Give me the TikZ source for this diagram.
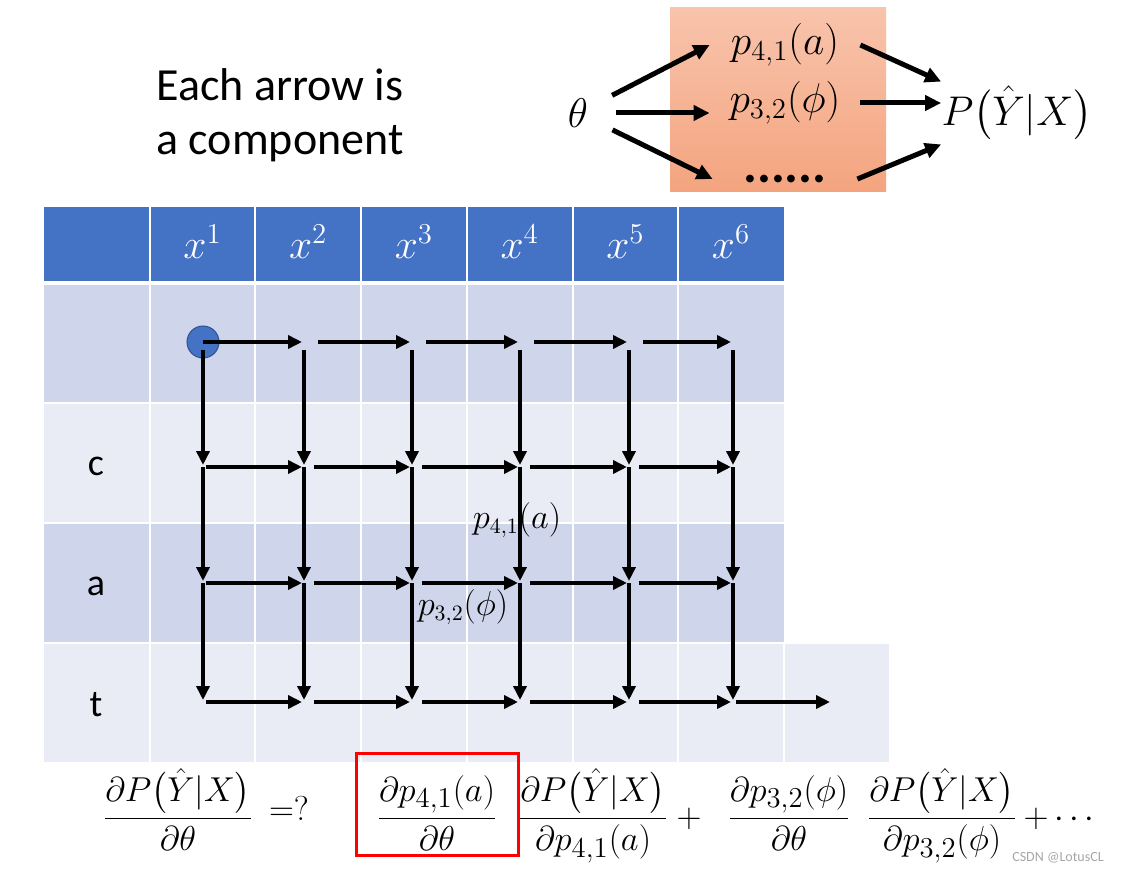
\documentclass[tikz,border=0pt]{standalone}
\usepackage{amsmath}
\usepackage{fontspec}
\setmainfont{Carlito}
\usetikzlibrary{arrows.meta,calc,positioning}
\definecolor{hdrblue}{HTML}{4472C4}
\definecolor{rowdark}{HTML}{CFD5EA}
\definecolor{rowlight}{HTML}{E9EBF5}
\definecolor{boxtop}{HTML}{F8C4AC}
\definecolor{boxbot}{HTML}{F4A47F}
\definecolor{dotedge}{HTML}{2F528F}
\tikzset{
  gridarr/.style={line width=2pt, -{Triangle[length=7pt,width=6.5pt]}},
  bigarr/.style={line width=2.5pt, -{Triangle[length=8pt,width=7.5pt]}},
  mathbig/.style={font=\fontsize{21}{25}\selectfont, inner sep=0pt},
  eqn/.style={font=\fontsize{19}{23}\selectfont, inner sep=0pt, anchor=base},
  hdrlbl/.style={text=white, font=\fontsize{21}{25}\selectfont},
  rowlbl/.style={font=\fontsize{19}{23}\selectfont},
  gridlbl/.style={font=\fontsize{16}{19}\selectfont, inner sep=0pt}
}
\begin{document}
\begin{tikzpicture}[x=0.5pt, y=-0.5pt]
\useasboundingbox (0,0) rectangle (1121,872);

% the table
\fill[hdrblue] (44,207) rectangle (784,281);
\fill[rowdark] (44,285) rectangle (784,403);
\fill[rowlight] (44,403) rectangle (784,523);
\fill[rowdark] (44,523) rectangle (784,643);
\fill[rowlight] (44,643) rectangle (889,762);
\foreach \c in {1,...,6}
  \draw[white, line width=1pt] (44+105.7*\c,207) -- (44+105.7*\c,762);
\draw[white, line width=1pt] (783.9,643) -- (783.9,762);
\foreach \y in {403,523,643}
  \draw[white, line width=0.8pt] (44,\y) -- (889,\y);
\foreach \c in {1,...,6}
  \node[hdrlbl] (x\c) at (44+105.7*\c+52.85,242) {$x^{\c}$};
\node[rowlbl] (lc) at (96,466) {c};
\node[rowlbl] (la) at (96,586) {a};
\node[rowlbl] (lt) at (96,705) {t};

% grid of arrows
\foreach \i/\x in {1/203,2/304,3/412,4/520,5/629,6/733,7/830}
  \foreach \j/\y in {1/342,2/467,3/583,4/702}
    \coordinate (g-\i-\j) at (\x,\y);
\node[circle, fill=hdrblue, draw=dotedge, line width=0.5pt, minimum size=16pt, inner sep=0pt] (start) at (g-1-1) {};

\draw[gridarr, shorten >=1pt] (g-1-1) -- (g-2-1);
\foreach \i [evaluate=\i as \n using int(\i+1)] in {2,...,5}
  \draw[gridarr, shorten <=7pt, shorten >=1pt] (g-\i-1) -- (g-\n-1);
\foreach \j in {2,3,4} {
  \draw[gridarr, shorten <=1.5pt, shorten >=1pt] (g-1-\j) -- (g-2-\j);
  \foreach \i [evaluate=\i as \n using int(\i+1)] in {2,...,5}
    \draw[gridarr, shorten <=5pt, shorten >=1pt] (g-\i-\j) -- (g-\n-\j);
}
\draw[gridarr, shorten <=1.5pt] (g-6-4) -- (g-7-4);
\foreach \i in {1,...,6} {
  \draw[gridarr, shorten <=4pt, shorten >=1pt] (g-\i-1) -- (g-\i-2);
  \draw[gridarr, shorten >=1pt] (g-\i-2) -- (g-\i-3);
  \draw[gridarr, shorten >=1pt] (g-\i-3) -- (g-\i-4);
}
\node[gridlbl] (lbl41) at (517,520) {$p_{4,1}(a)$};
\node[gridlbl] (lbl32) at (463,607) {$p_{3,2}(\phi)$};

% text top left
\node[align=center, font=\fontsize{23}{27}\selectfont] (note) at (280,115) {Each arrow is\\a component};

% components
\shade[top color=boxtop, bottom color=boxbot] (670,8) rectangle (886,192);
\node[circle, minimum size=38pt, mathbig] (theta) at (578,113) {$\theta$};
\node[mathbig, minimum width=75pt] (p41) at (785,45) {$p_{4,1}(a)$};
\node[mathbig, minimum width=75pt] (p32) at (785,103) {$p_{3,2}(\phi)$};
\node[minimum width=72pt, inner sep=0pt, font=\bfseries\fontsize{26}{30}\selectfont] (dots) at (785,179) {......};
\node[mathbig, minimum width=70pt, minimum height=31pt] (pyx) at (1017,113) {$P\big(\hat{Y}|X\big)$};
\draw[bigarr] (theta) -- (p41.west);
\draw[bigarr] (theta.east) -- (theta.east -| p32.west);
\draw[bigarr] (theta) -- (dots.west);
\draw[bigarr] (p41.east) -- (pyx.north west);
\draw[bigarr] (p32.east) -- (p32.east -| pyx.west);
\draw[bigarr] (dots.east) -- (pyx.south west);

% chain rule
\node[eqn] (lhs) at (178,827) {$\dfrac{\partial P\big(\hat{Y}|X\big)}{\partial\theta}$};
\node[eqn] (ask) at (289,820) {$=?$};
\node[eqn] (term1) at (437,827) {$\dfrac{\partial p_{4,1}(a)}{\partial\theta}$};
\node[draw=red, line width=1.5pt, minimum width=81pt, minimum height=51pt, inner sep=0pt] (redbox) at (437,804) {};
\node[eqn] (term2) at (593,827) {$\dfrac{\partial P\big(\hat{Y}|X\big)}{\partial p_{4,1}(a)}$};
\node[eqn] (plus1) at (689,827) {$+$};
\node[eqn] (term3) at (789,827) {$\dfrac{\partial p_{3,2}(\phi)}{\partial\theta}$};
\node[eqn] (term4) at (942,827) {$\dfrac{\partial P\big(\hat{Y}|X\big)}{\partial p_{3,2}(\phi)}$};
\node[eqn] (rest) at (1062,827) {$+\cdots$};
\node[font=\fontsize{7}{8}\selectfont, text=gray!70] (mark) at (1058,858) {CSDN @LotusCL};
\end{tikzpicture}
\end{document}
